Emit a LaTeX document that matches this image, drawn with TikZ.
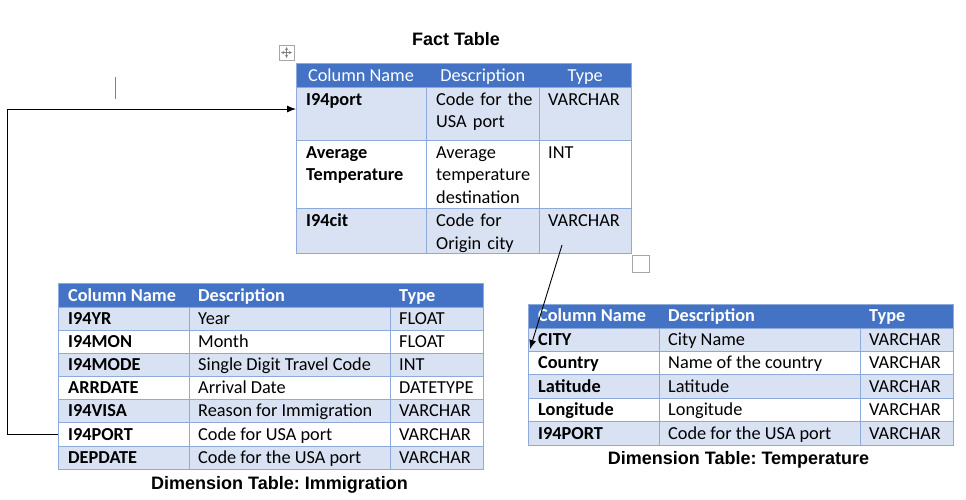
\documentclass[tikz,border=0pt]{standalone}
\usepackage{fontspec}
\setmainfont{Carlito}
\newfontfamily\titlefont{Liberation Sans}
\usepackage{tikz}
\usetikzlibrary{positioning,calc,arrows.meta}
\frenchspacing
\definecolor{hdrblue}{HTML}{4472C4}
\definecolor{bandblue}{HTML}{D9E2F3}
\definecolor{gridblue}{HTML}{8EAADB}
\definecolor{icongray}{HTML}{A6A6A6}
\def\cellfont{\fontsize{18.3}{22.5}\selectfont}
\tikzset{
    rowbox/.style={draw=gridblue, line width=0.8pt, anchor=north west, inner sep=0pt, outer sep=0pt},
    hdrbox/.style={rowbox, fill=hdrblue},
    celltxt/.style={font=\cellfont, anchor=base west, inner sep=0pt},
    hdrtxt/.style={celltxt, text=white, font=\cellfont\bfseries},
    gridline/.style={draw=gridblue, line width=0.8pt},
    tbltitle/.style={font=\titlefont\fontsize{18}{22}\selectfont\bfseries, anchor=base},
    link/.style={-{Latex[length=9pt,width=7pt]}, line width=0.9pt}
}

\begin{document}
\begin{tikzpicture}[x=1pt, y=-1pt]
    \useasboundingbox (0,0) rectangle (966,499);

    % fact table
    \node[tbltitle] (facttitle) at (456,45.7) {Fact Table};
    \node[hdrbox, minimum width=335pt, minimum height=24pt] (fhead) at (296,63.5) {};
    \node[rowbox, fill=bandblue, minimum width=335pt, minimum height=52.5pt] (fr1) at (296,87.5) {};
    \node[rowbox, fill=white, minimum width=335pt, minimum height=68pt] (fr2) at (296,140) {};
    \node[rowbox, fill=bandblue, minimum width=335pt, minimum height=45pt] (fr3) at (296,208) {};
    \draw[gridline] (426,87.5) -- (426,253);
    \draw[gridline] (539.5,87.5) -- (539.5,253);
    \node[celltxt, text=white, anchor=base] (fh1) at (361,81.3) {Column Name};
    \node[celltxt, text=white, anchor=base] (fh2) at (482.75,81.3) {Description};
    \node[celltxt, text=white, anchor=base] (fh3) at (585.25,81.3) {Type};
    \node[celltxt, font=\cellfont\bfseries] (fn1) at (306,105.2) {I94port};
    \node[celltxt, text width=100pt, align=left] (fd1) at (436,105.2) {Code for the\\USA port};
    \node[celltxt] (ft1) at (548,105.2) {VARCHAR};
    \node[celltxt, font=\cellfont\bfseries, text width=115pt, align=left] (fn2) at (306,158.3) {Average\\Temperature};
    \node[celltxt, text width=100pt, align=left] (fd2) at (436,158.3) {Average\\temperature\\destination};
    \node[celltxt] (ft2) at (548,158.3) {INT};
    \node[celltxt, font=\cellfont\bfseries] (fn3) at (306,226.5) {I94cit};
    \node[celltxt, text width=100pt, align=left] (fd3) at (436,226.5) {Code for\\Origin city};
    \node[celltxt] (ft3) at (548,226.5) {VARCHAR};

    % table handles
    \draw[icongray, line width=0.8pt] (279,45) rectangle (294,60);
    \draw[<->, >=stealth, line width=0.5pt, gray] (281,52.5) -- (292,52.5);
    \draw[<->, >=stealth, line width=0.5pt, gray] (286.5,47) -- (286.5,58);
    \draw[icongray, line width=1pt] (632,255) rectangle (649,272);
    \draw[gray, line width=0.8pt] (115.5,77) -- (115.5,99);

    % immigration table
    \node[hdrbox, minimum width=425pt, minimum height=23.5pt] (imhead) at (58,283.5) {};
    \node[hdrtxt] (imh1) at ([xshift=10pt,yshift=-5.8pt]imhead.west) {Column Name};
    \node[hdrtxt] (imh2) at ([xshift=140pt,yshift=-5.8pt]imhead.west) {Description};
    \node[hdrtxt] (imh3) at ([xshift=341pt,yshift=-5.8pt]imhead.west) {Type};
    \foreach \c/\d/\t [count=\i] in {I94YR/Year/FLOAT, I94MON/Month/FLOAT,
        I94MODE/Single Digit Travel Code/INT, ARRDATE/Arrival Date/DATETYPE,
        I94VISA/Reason for Immigration/VARCHAR, I94PORT/Code for USA port/VARCHAR,
        DEPDATE/Code for the USA port/VARCHAR}{
        \ifodd\i \def\rowfill{bandblue}\else \def\rowfill{white}\fi
        \node[rowbox, fill=\rowfill, minimum width=425pt, minimum height=23.15pt] (im\i) at (58,{307+23.15*(\i-1)}) {};
        \node[celltxt, font=\cellfont\bfseries] (imc\i) at ([xshift=10pt,yshift=-5.8pt]im\i.west) {\c};
        \node[celltxt] (imd\i) at ([xshift=140pt,yshift=-5.8pt]im\i.west) {\d};
        \node[celltxt] (imt\i) at ([xshift=341pt,yshift=-5.8pt]im\i.west) {\t};
    }
    \draw[gridline] (189,307) -- (189,469);
    \draw[gridline] (390,307) -- (390,469);
    \node[tbltitle] (imtitle) at (279.5,489.3) {Dimension Table: Immigration};

    % temperature table
    \node[hdrbox, minimum width=425pt, minimum height=24pt] (tphead) at (528.5,304) {};
    \node[hdrtxt] (tph1) at ([xshift=9.5pt,yshift=-5.8pt]tphead.west) {Column Name};
    \node[hdrtxt] (tph2) at ([xshift=139.5pt,yshift=-5.8pt]tphead.west) {Description};
    \node[hdrtxt] (tph3) at ([xshift=340.5pt,yshift=-5.8pt]tphead.west) {Type};
    \foreach \c/\d/\t [count=\i] in {CITY/City Name/VARCHAR, Country/Name of the country/VARCHAR,
        Latitude/Latitude/VARCHAR, Longitude/Longitude/VARCHAR,
        I94PORT/Code for the USA port/VARCHAR}{
        \ifodd\i \def\rowfill{bandblue}\else \def\rowfill{white}\fi
        \node[rowbox, fill=\rowfill, minimum width=425pt, minimum height=23.4pt] (tp\i) at (528.5,{328+23.4*(\i-1)}) {};
        \node[celltxt, font=\cellfont\bfseries] (tpc\i) at ([xshift=9.5pt,yshift=-5.8pt]tp\i.west) {\c};
        \node[celltxt] (tpd\i) at ([xshift=139.5pt,yshift=-5.8pt]tp\i.west) {\d};
        \node[celltxt] (tpt\i) at ([xshift=340.5pt,yshift=-5.8pt]tp\i.west) {\t};
    }
    \draw[gridline] (659,328) -- (659,445);
    \draw[gridline] (860,328) -- (860,445);
    \node[tbltitle] (tptitle) at (738.5,464) {Dimension Table: Temperature};

    % links
    \coordinate (elbow) at (7,109);
    \draw[link] (im6.west) -| (elbow) -- (elbow -| fr1.west);
    \coordinate (citfoot) at (562,245);
    \draw[link] (citfoot) -- ([xshift=1.5pt,yshift=-9.3pt]tp1.west);
\end{tikzpicture}
\end{document}
